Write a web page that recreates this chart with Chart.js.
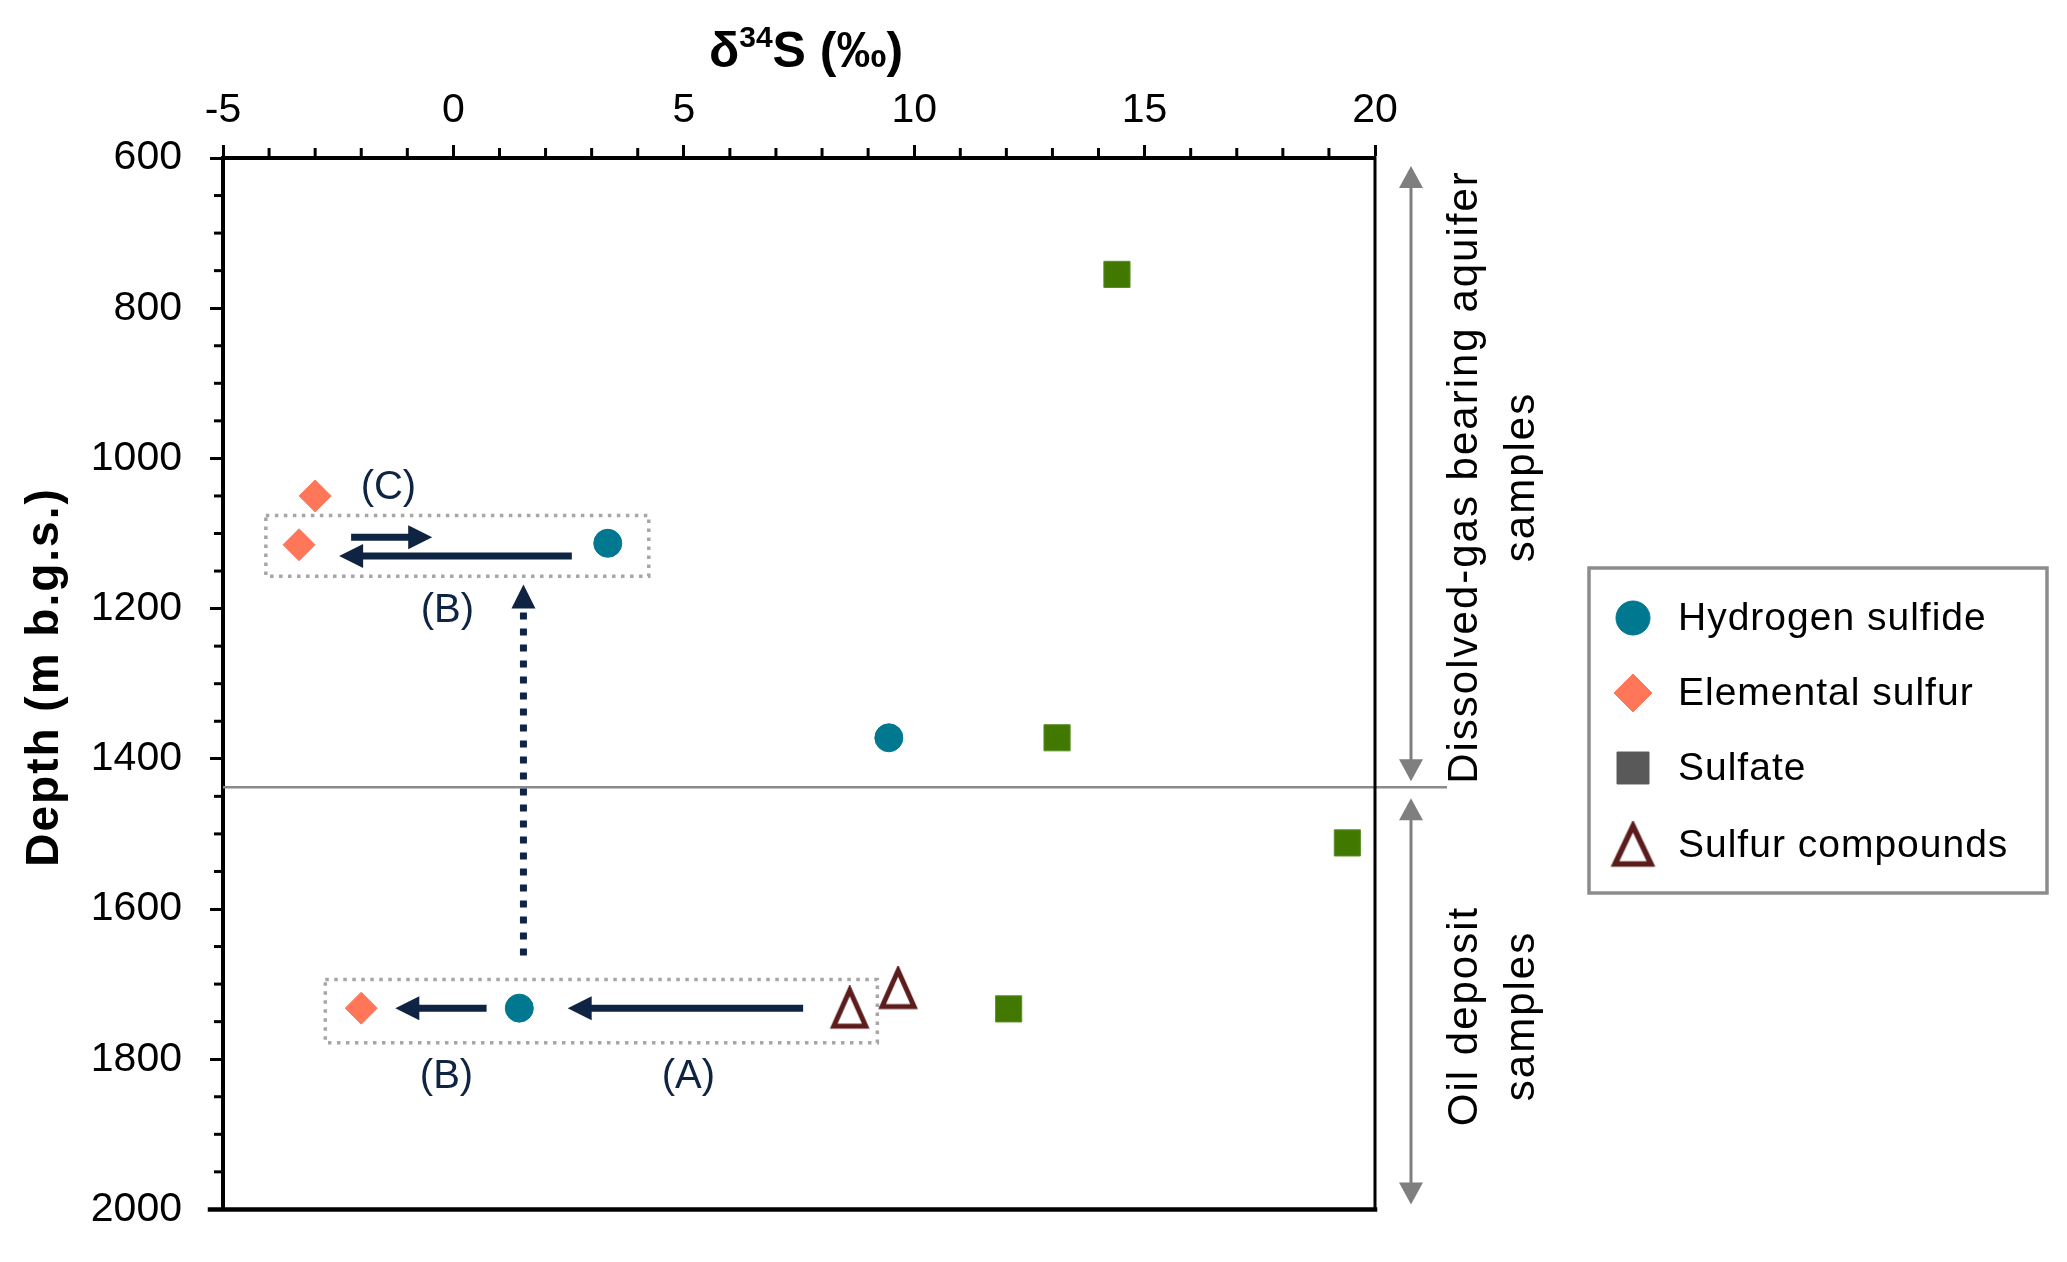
<!DOCTYPE html>
<html><head><meta charset="utf-8">
<script src="https://cdn.jsdelivr.net/npm/chart.js@4.4.0/dist/chart.umd.min.js"></script>
<style>html,body{margin:0;padding:0;background:#fff;overflow:hidden}#wrap{width:2067px;height:1262px}</style>
</head><body><div id="wrap"><canvas id="c" width="2067" height="1262"></canvas></div>
<script>
const FONT = '"Liberation Sans", Arial, sans-serif';

// ---- data (d34S in permil, depth in m b.g.s.) ----
const seriesNames = ['Hydrogen sulfide', 'Elemental sulfur', 'Sulfate', 'Sulfur compounds'];
const h2sD34S   = [3.35, 9.45, 1.43];
const h2sDepth  = [1113, 1372, 1732];
const s0D34S    = [-3.0, -3.35, -2.0];
const s0Depth   = [1050, 1115, 1732];
const so4D34S   = [14.4, 13.1, 19.4, 12.05];
const so4Depth  = [755, 1372, 1512, 1733];
const scD34S    = [8.6, 9.65];
const scDepth   = [1732, 1706];

// ---- axes ----
const xMin = -5, xMax = 20, xStep = 5, xMinor = 1;
const yMin = 600, yMax = 2000, yStep = 200, yMinor = 50;
const xTitleMain = 'δ', xTitleSup = '34', xTitleRest = 'S (‰)';
const yTitle = 'Depth (m b.g.s.)';
const boundaryDepth = 1438;
const upperGroupLabel = ['Dissolved-gas bearing aquifer', 'samples'];
const lowerGroupLabel = ['Oil deposit', 'samples'];

// ---- annotations (in data units) ----
const boxes = [
  {x0: -4.07, x1: 4.24, y0: 1076, y1: 1157},
  {x0: -2.78, x1: 9.2,  y0: 1694, y1: 1778}
];
const arrows = [
  {from: [-2.22, 1105], to: [-0.46, 1105]},
  {from: [2.57, 1130],  to: [-2.48, 1130]},
  {from: [0.72, 1732],  to: [-1.26, 1732]},
  {from: [7.59, 1732],  to: [2.48, 1732]},
  {from: [1.52, 1662],  to: [1.52, 1168], dashed: true}
];
const annLabels = [
  {t: '(C)', x: -1.41, y: 1039},
  {t: '(B)', x: -0.13, y: 1203},
  {t: '(B)', x: -0.15, y: 1823},
  {t: '(A)', x: 5.1,  y: 1823}
];

// ---- styles ----
const cTeal = '#00788f', cSalmon = '#ff7659', cGreen = '#407800', cDarkRed = '#5c1c1c', cNavy = '#0f2442';
const cLegendSulfate = '#595959';

function makeTri(w, h, lw, color) {
  const cv = document.createElement('canvas');
  cv.width = w + lw * 2; cv.height = h + lw * 2;
  const g = cv.getContext('2d');
  g.lineJoin = 'miter';
  g.beginPath();
  g.moveTo(cv.width / 2, lw);
  g.lineTo(cv.width / 2 + w / 2, lw + h);
  g.lineTo(cv.width / 2 - w / 2, lw + h);
  g.closePath();
  g.fillStyle = '#fff'; g.fill();
  g.strokeStyle = color; g.lineWidth = lw; g.stroke();
  return cv;
}
const triImg = makeTri(32, 36, 5, cDarkRed);
const triLegendImg = makeTri(36, 38, 5.5, cDarkRed);

function toPts(xs, ys) { return xs.map((v, i) => ({x: v, y: ys[i]})); }

function drawArrow(ctx, x0, y0, x1, y1, dashed) {
  const L = 24, HW = 12;
  const dx = x1 - x0, dy = y1 - y0, len = Math.hypot(dx, dy);
  const ux = dx / len, uy = dy / len;
  const bx = x1 - ux * L, by = y1 - uy * L;
  ctx.strokeStyle = cNavy; ctx.fillStyle = cNavy;
  ctx.lineWidth = 7; ctx.lineCap = 'butt';
  ctx.setLineDash(dashed ? [7, 9] : []);
  ctx.beginPath(); ctx.moveTo(x0, y0); ctx.lineTo(bx + ux * 2, by + uy * 2); ctx.stroke();
  ctx.setLineDash([]);
  ctx.beginPath();
  ctx.moveTo(x1, y1);
  ctx.lineTo(bx - uy * HW, by + ux * HW);
  ctx.lineTo(bx + uy * HW, by - ux * HW);
  ctx.closePath(); ctx.fill();
}

function grayArrow(ctx, x, yTop, yBot) {
  const L = 22, HW = 12;
  ctx.strokeStyle = '#7f7f7f'; ctx.fillStyle = '#7f7f7f'; ctx.lineWidth = 3;
  ctx.beginPath(); ctx.moveTo(x, yTop + L - 1); ctx.lineTo(x, yBot - L + 1); ctx.stroke();
  ctx.beginPath(); ctx.moveTo(x, yTop); ctx.lineTo(x - HW, yTop + L); ctx.lineTo(x + HW, yTop + L); ctx.closePath(); ctx.fill();
  ctx.beginPath(); ctx.moveTo(x, yBot); ctx.lineTo(x - HW, yBot - L); ctx.lineTo(x + HW, yBot - L); ctx.closePath(); ctx.fill();
}

function vText(ctx, lines, xs, cy, size, spacing) {
  ctx.font = size + 'px ' + FONT;
  ctx.letterSpacing = spacing + 'px';
  ctx.fillStyle = '#000';
  ctx.textAlign = 'center'; ctx.textBaseline = 'middle';
  lines.forEach((t, i) => {
    ctx.save(); ctx.translate(xs[i], cy); ctx.rotate(-Math.PI / 2);
    ctx.fillText(t, spacing / 2, 0); ctx.restore();
  });
  ctx.letterSpacing = '0px';
}

const annot = {
  id: 'annot',
  beforeDatasetsDraw(chart) {
    const {ctx, scales: {x, y}, chartArea: a} = chart;
    const X = v => x.getPixelForValue(v), Y = v => y.getPixelForValue(v);
    ctx.save();
    const by = Y(boundaryDepth);
    ctx.strokeStyle = '#8a8a8a'; ctx.lineWidth = 2.5;
    ctx.beginPath(); ctx.moveTo(a.left, by); ctx.lineTo(a.right + 72, by); ctx.stroke();
    ctx.strokeStyle = '#a6a6a6'; ctx.lineWidth = 3.5; ctx.setLineDash([3.5, 5.5]);
    boxes.forEach(b => ctx.strokeRect(X(b.x0), Y(b.y0), X(b.x1) - X(b.x0), Y(b.y1) - Y(b.y0)));
    ctx.setLineDash([]);
    arrows.forEach(ar => drawArrow(ctx, X(ar.from[0]), Y(ar.from[1]), X(ar.to[0]), Y(ar.to[1]), ar.dashed));
    ctx.font = '40px ' + FONT; ctx.fillStyle = cNavy; ctx.textAlign = 'center'; ctx.textBaseline = 'middle';
    annLabels.forEach(l => ctx.fillText(l.t, X(l.x), Y(l.y)));
    ctx.restore();
  },
  afterDraw(chart) {
    const {ctx, scales: {x, y}, chartArea: a} = chart;
    const X = v => x.getPixelForValue(v), Y = v => y.getPixelForValue(v);
    ctx.save();
    // frame (right + bottom)
    ctx.strokeStyle = '#000'; ctx.lineCap = 'square';
    ctx.lineWidth = 3; ctx.beginPath(); ctx.moveTo(a.right, a.top); ctx.lineTo(a.right, a.bottom); ctx.stroke();
    ctx.lineWidth = 4.5; ctx.beginPath(); ctx.moveTo(a.left - 13, a.bottom); ctx.lineTo(a.right, a.bottom); ctx.stroke();
    ctx.lineCap = 'butt';
    // minor ticks
    ctx.lineWidth = 3;
    for (let v = xMin + xMinor; v < xMax; v += xMinor) {
      if (v % xStep === 0) continue;
      ctx.beginPath(); ctx.moveTo(X(v), a.top); ctx.lineTo(X(v), a.top - 10); ctx.stroke();
    }
    for (let v = yMin + yMinor; v < yMax; v += yMinor) {
      if (v % yStep === 0) continue;
      ctx.beginPath(); ctx.moveTo(a.left, Y(v)); ctx.lineTo(a.left - 9, Y(v)); ctx.stroke();
    }
    // x title with superscript
    ctx.fillStyle = '#000'; ctx.textBaseline = 'alphabetic'; ctx.textAlign = 'left';
    const fMain = 'bold 50px ' + FONT, fSup = 'bold 30px ' + FONT;
    ctx.font = fMain; const w1 = ctx.measureText(xTitleMain).width, w3 = ctx.measureText(xTitleRest).width;
    ctx.font = fSup; const w2 = ctx.measureText(xTitleSup).width;
    let tx = 806 - (w1 + w2 + w3) / 2; const base = 67;
    ctx.font = fMain; ctx.fillText(xTitleMain, tx, base); tx += w1;
    ctx.font = fSup; ctx.fillText(xTitleSup, tx, base - 20); tx += w2;
    ctx.font = fMain; ctx.fillText(xTitleRest, tx, base);
    // y title
    ctx.font = 'bold 46px ' + FONT; ctx.letterSpacing = '2px';
    ctx.textAlign = 'center'; ctx.textBaseline = 'middle';
    ctx.save(); ctx.translate(45, 678); ctx.rotate(-Math.PI / 2); ctx.fillText(yTitle, 1, 0); ctx.restore();
    ctx.letterSpacing = '0px';
    // group markers on the right
    const by = Y(boundaryDepth);
    grayArrow(ctx, 1411, a.top + 8, by - 6);
    grayArrow(ctx, 1411, by + 11, a.bottom - 5);
    vText(ctx, upperGroupLabel, [1465, 1522], 478, 42, 2);
    vText(ctx, lowerGroupLabel, [1465, 1522], 1017, 42, 2);
    // legend
    ctx.strokeStyle = '#8c8c8c'; ctx.lineWidth = 3.5;
    ctx.strokeRect(1589, 568, 458, 325);
    const ly = [618, 693, 768, 845], mx = 1633;
    const legendStyles = [
      {pointStyle: 'circle', radius: 17, color: cTeal},
      {pointStyle: 'rectRot', radius: 19, color: cSalmon},
      {pointStyle: 'rect', radius: 22.6, color: cLegendSulfate},
      {pointStyle: triLegendImg, radius: 20, color: cDarkRed}
    ];
    seriesNames.forEach((n, i) => {
      const s = legendStyles[i];
      ctx.fillStyle = s.color; ctx.strokeStyle = s.color; ctx.lineWidth = 1;
      Chart.helpers.drawPoint(ctx, {pointStyle: s.pointStyle, radius: s.radius, rotation: 0, borderWidth: 1}, mx, ly[i]);
      ctx.fillStyle = '#000'; ctx.font = '39px ' + FONT; ctx.letterSpacing = '1px';
      ctx.textAlign = 'left'; ctx.textBaseline = 'middle';
      ctx.fillText(n, 1678, ly[i] + 1);
      ctx.letterSpacing = '0px';
    });
    ctx.restore();
  }
};

const tickFont = {family: FONT, size: 41};
new Chart(document.getElementById('c'), {
  type: 'scatter',
  data: {
    datasets: [
      {label: seriesNames[0], data: toPts(h2sD34S, h2sDepth), pointStyle: 'circle', pointRadius: 14,
       backgroundColor: cTeal, borderColor: cTeal, borderWidth: 1},
      {label: seriesNames[1], data: toPts(s0D34S, s0Depth), pointStyle: 'rectRot', pointRadius: 16,
       backgroundColor: cSalmon, borderColor: cSalmon, borderWidth: 1},
      {label: seriesNames[2], data: toPts(so4D34S, so4Depth), pointStyle: 'rect', pointRadius: 18.5,
       backgroundColor: cGreen, borderColor: '#5a8f2a', borderWidth: 1},
      {label: seriesNames[3], data: toPts(scD34S, scDepth), pointStyle: triImg, pointRadius: 18,
       backgroundColor: '#fff', borderColor: cDarkRed, borderWidth: 0}
    ]
  },
  options: {
    responsive: false, animation: false, devicePixelRatio: 1,
    layout: {padding: {left: 0, top: 0, right: 2067 - 1375, bottom: 1262 - 1228}},
    plugins: {legend: {display: false}, tooltip: {enabled: false}, title: {display: false}},
    scales: {
      x: {
        type: 'linear', position: 'top', min: xMin, max: xMax,
        ticks: {stepSize: xStep, font: tickFont, color: '#000', padding: 10, maxRotation: 0, autoSkip: false,
                callback: v => String(v)},
        grid: {drawOnChartArea: false, drawTicks: true, tickLength: 13, tickWidth: 3, tickColor: '#000'},
        border: {display: true, color: '#000', width: 4},
        afterFit: s => { s.height = 158; }
      },
      y: {
        type: 'linear', position: 'left', reverse: true, min: yMin, max: yMax,
        ticks: {stepSize: yStep, font: tickFont, color: '#000', padding: 28, autoSkip: false,
                callback: v => String(v)},
        grid: {drawOnChartArea: false, drawTicks: true, tickLength: 13, tickWidth: 3, tickColor: '#000'},
        border: {display: true, color: '#000', width: 4},
        afterFit: s => { s.width = 223; }
      }
    }
  },
  plugins: [annot]
});
</script>
</body></html>
